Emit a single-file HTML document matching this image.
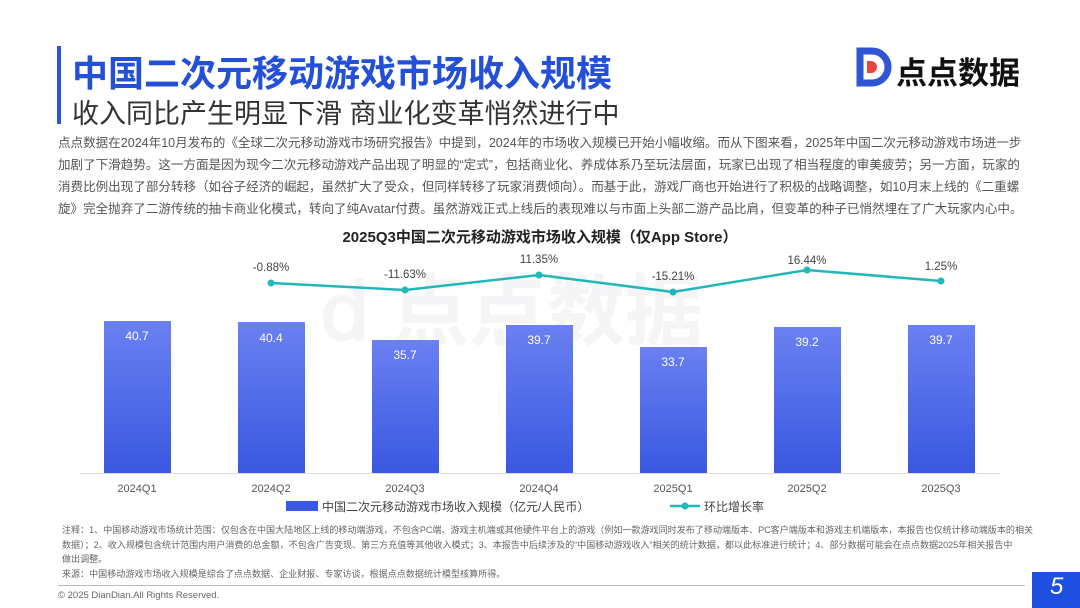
<!DOCTYPE html>
<html><head><meta charset="utf-8"><style>
*{margin:0;padding:0;box-sizing:border-box}
body{width:1080px;height:608px;background:#fff;position:relative;overflow:hidden;font-family:"Liberation Sans","Noto Sans CJK SC",sans-serif}
.abs{position:absolute;white-space:nowrap}
.p{left:58px;font-size:12.55px;color:#555;line-height:22px}
.note{left:62px;font-size:9.05px;color:#666;line-height:14.5px}
</style></head><body>
<div class="abs" style="left:57px;top:46px;width:4px;height:78px;background:#2f55d4"></div>
<div class="abs" style="left:72px;top:45px;font-size:36px;font-weight:bold;color:#2450d8">中国二次元移动游戏市场收入规模</div>
<div class="abs" style="left:72px;top:92px;font-size:27px;color:#333">收入同比产生明显下滑 商业化变革悄然进行中</div>
<svg class="abs" style="left:852px;top:47px" width="40" height="40" viewBox="0 0 40 40"><path d="M8 4h12a16 16 0 0 1 0 32H8z" fill="none" stroke="#2f55d4" stroke-width="7"/><path d="M15 14h4a6 6 0 0 1 0 12h-4z" fill="#e8453c"/></svg>
<div class="abs" style="left:896px;top:48px;font-size:31px;font-weight:bold;color:#111">点点数据</div>
<div class="abs p" style="top:132px">点点数据在2024年10月发布的《全球二次元移动游戏市场研究报告》中提到，2024年的市场收入规模已开始小幅收缩。而从下图来看，2025年中国二次元移动游戏市场进一步<br>加剧了下滑趋势。这一方面是因为现今二次元移动游戏产品出现了明显的“定式”，包括商业化、养成体系乃至玩法层面，玩家已出现了相当程度的审美疲劳；另一方面，玩家的<br>消费比例出现了部分转移（如谷子经济的崛起，虽然扩大了受众，但同样转移了玩家消费倾向）。而基于此，游戏厂商也开始进行了积极的战略调整，如10月末上线的《二重螺<br>旋》完全抛弃了二游传统的抽卡商业化模式，转向了纯Avatar付费。虽然游戏正式上线后的表现难以与市面上头部二游产品比肩，但变革的种子已悄然埋在了广大玩家内心中。</div>
<div class="abs" style="left:0;width:1080px;text-align:center;top:226px;font-size:15px;font-weight:bold;color:#222">2025Q3中国二次元移动游戏市场收入规模（仅App Store）</div>
<div class="abs" style="left:320px;top:250px;font-size:78px;font-weight:bold;color:#f5f5f7">ⅾ 点点数据</div>
<svg class="abs" style="left:0;top:0" width="1080" height="608">
<defs><linearGradient id="g" x1="0" y1="0" x2="0" y2="1"><stop offset="0" stop-color="#6a80f2"/><stop offset="1" stop-color="#3a58e0"/></linearGradient></defs>
<g fill="url(#g)">
<rect x="104" y="321" width="67" height="152"/><rect x="238" y="322" width="67" height="151"/><rect x="372" y="340" width="67" height="133"/><rect x="506" y="325" width="67" height="148"/><rect x="640" y="347" width="67" height="126"/><rect x="774" y="327" width="67" height="146"/><rect x="908" y="325" width="67" height="148"/>
</g>
<g fill="#fff" font-size="12" text-anchor="middle" font-family="Liberation Sans">
<text x="137" y="340">40.7</text><text x="271" y="342">40.4</text><text x="405" y="359">35.7</text><text x="539" y="344">39.7</text><text x="673" y="366">33.7</text><text x="807" y="346">39.2</text><text x="941" y="344">39.7</text>
</g>
<line x1="80" y1="473.5" x2="1000" y2="473.5" stroke="#ddd"/>
<polyline points="271,283 405,290 539,275 673,292 807,270 941,281" fill="none" stroke="#22b8b8" stroke-width="2.5"/>
<g fill="#22b8b8"><circle cx="271" cy="283" r="3.5"/><circle cx="405" cy="290" r="3.5"/><circle cx="539" cy="275" r="3.5"/><circle cx="673" cy="292" r="3.5"/><circle cx="807" cy="270" r="3.5"/><circle cx="941" cy="281" r="3.5"/></g>
<g fill="#444" font-size="11.5" text-anchor="middle" font-family="Liberation Sans">
<text x="271" y="271">-0.88%</text><text x="405" y="278">-11.63%</text><text x="539" y="263">11.35%</text><text x="673" y="280">-15.21%</text><text x="807" y="264">16.44%</text><text x="941" y="270">1.25%</text>
</g>
<g fill="#555" font-size="11" text-anchor="middle" font-family="Liberation Sans">
<text x="137" y="492">2024Q1</text><text x="271" y="492">2024Q2</text><text x="405" y="492">2024Q3</text><text x="539" y="492">2024Q4</text><text x="673" y="492">2025Q1</text><text x="807" y="492">2025Q2</text><text x="941" y="492">2025Q3</text>
</g>
<rect x="286" y="501" width="32" height="10" fill="#3a58e0"/>
<line x1="670" y1="506" x2="700" y2="506" stroke="#22b8b8" stroke-width="2.5"/><circle cx="685" cy="506" r="3.5" fill="#22b8b8"/>
<line x1="58" y1="585.5" x2="1025" y2="585.5" stroke="#bbb"/>
<rect x="1032" y="572" width="48" height="36" fill="#1f4fe0"/>
</svg>
<div class="abs" style="left:322px;top:498px;font-size:12px;color:#444">中国二次元移动游戏市场收入规模（亿元/人民币）</div>
<div class="abs" style="left:704px;top:498px;font-size:12px;color:#444">环比增长率</div>
<div class="abs note" style="top:523px">注释：1、中国移动游戏市场统计范围：仅包含在中国大陆地区上线的移动端游戏，不包含PC端、游戏主机端或其他硬件平台上的游戏（例如一款游戏同时发布了移动端版本、PC客户端版本和游戏主机端版本，本报告也仅统计移动端版本的相关<br>数据）；2、收入规模包含统计范围内用户消费的总金额，不包含广告变现、第三方充值等其他收入模式；3、本报告中后续涉及的“中国移动游戏收入”相关的统计数据，都以此标准进行统计；4、部分数据可能会在点点数据2025年相关报告中<br>做出调整。</div>
<div class="abs note" style="top:567px">来源：中国移动游戏市场收入规模是综合了点点数据、企业财报、专家访谈，根据点点数据统计模型核算所得。</div>
<div class="abs" style="left:58px;top:590px;font-size:9.5px;color:#666">© 2025 DianDian.All Rights Reserved.</div>
<div class="abs" style="left:1050px;top:573px;font-size:24px;font-style:italic;color:#fff">5</div>
</body></html>
